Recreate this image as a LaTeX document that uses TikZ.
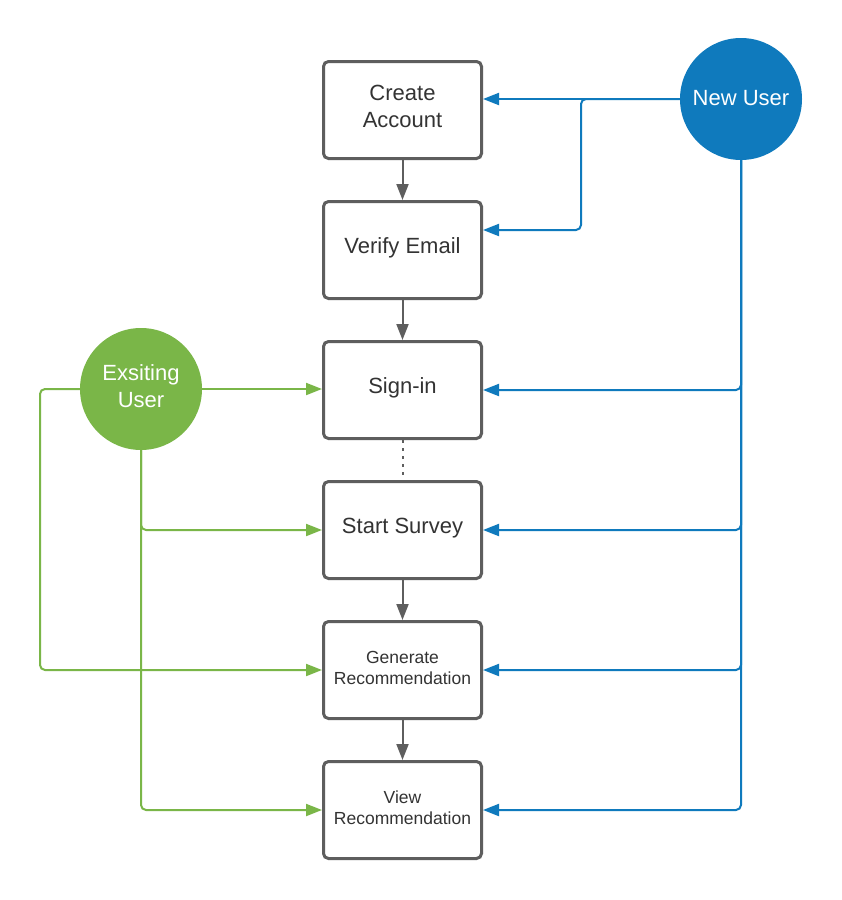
\documentclass[tikz,border=0pt]{standalone}
\usepackage{fontspec}
\setmainfont{Liberation Sans}
\usetikzlibrary{arrows.meta,calc}
\definecolor{nublue}{HTML}{0F7ABD}
\definecolor{eugreen}{HTML}{7AB648}
\definecolor{boxgray}{HTML}{5E5E5E}
\definecolor{txt}{HTML}{333333}
\begin{document}
\begin{tikzpicture}[x=1pt,y=-1pt,
  stepbox/.style={draw=boxgray, line width=3pt, rounded corners=5pt, fill=white,
    minimum width=158pt, minimum height=97pt, text=txt,
    font=\fontsize{22}{27}\selectfont, align=center, inner sep=0pt, text depth=8pt},
  smallbox/.style={stepbox, font=\fontsize{17.5}{21}\selectfont, text depth=4pt},
  usercirc/.style={circle, minimum size=122pt, inner sep=0pt, text=white,
    font=\fontsize{22}{27}\selectfont, align=center},
  arr/.style={-{Triangle[length=16pt,width=12pt]}},
  bl/.style={arr, draw=nublue, line width=2pt, rounded corners=5pt},
  gr/.style={arr, draw=eugreen, line width=2pt, rounded corners=5pt},
  gy/.style={arr, draw=boxgray, line width=2pt},
  dotline/.style={draw=boxgray, line width=2pt, dash pattern=on 3pt off 5pt}]
\useasboundingbox (0,0) rectangle (842,900);
\fill[white] (0,0) rectangle (842,900);

\node[stepbox] (ca) at (402.5,110) {Create\\Account};
\node[stepbox] (ve) at (402.5,250) {Verify Email};
\node[stepbox] (si) at (402.5,390) {Sign-in};
\node[stepbox] (ss) at (402.5,530) {Start Survey};
\node[smallbox] (gn) at (402.5,670) {Generate\\Recommendation};
\node[smallbox] (vr) at (402.5,810) {View\\Recommendation};
\node[usercirc, fill=nublue, text depth=2pt] (nu) at (741,99) {New User};
\node[usercirc, fill=eugreen, text depth=6pt] (eu) at (141,389) {Exsiting\\User};

% gray flow
\draw[gy] (ca) -- (ve);
\draw[gy] (ve) -- (si);
\draw[dotline] (si) -- (ss);
\draw[gy] (ss) -- (gn);
\draw[gy] (gn) -- (vr);

% new user
\draw[bl] (nu.west) -- (nu.west -| ca.east);
\coordinate (nubr) at (581,99);
\draw[bl] (nu.west) -- (nubr) |- ([yshift=20pt]ve.east);
\foreach \b in {si,ss,gn,vr} \draw[bl] (nu.south) |- (\b.east);

% existing user
\draw[gr] (eu.east) -- (eu.east -| si.west);
\coordinate (eubr) at (40,389);
\draw[gr] (eu.west) -- (eubr) |- (gn.west);
\draw[gr] (eu.south) |- (ss.west);
\draw[gr] (eu.south) |- (vr.west);
\end{tikzpicture}
\end{document}
